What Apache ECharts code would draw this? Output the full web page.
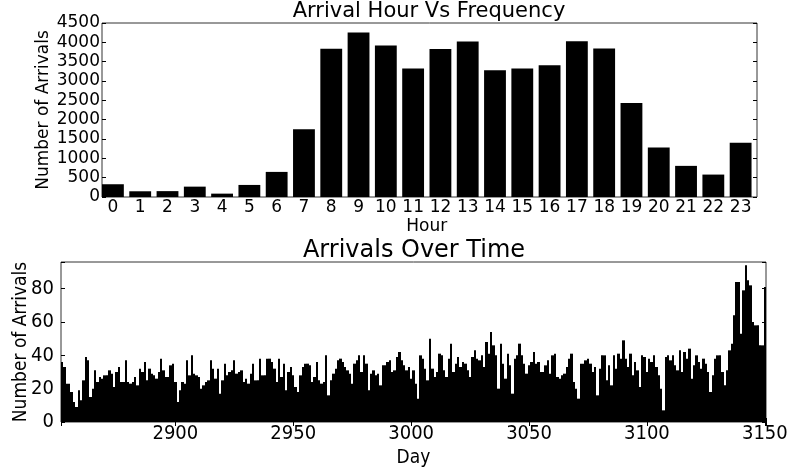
<!DOCTYPE html>
<html>
<head>
<meta charset="utf-8">
<script src="https://cdn.jsdelivr.net/npm/echarts@6/dist/echarts.min.js"></script>
<style>
  html, body { margin: 0; padding: 0; background: #fff; }
  #main { width: 792px; height: 469px; }
</style>
</head>
<body>
<div id="main"></div>
<script>
// arrivals per hour of day
const hours = ['0', '1', '2', '3', '4', '5', '6', '7', '8', '9', '10', '11',
  '12', '13', '14', '15', '16', '17', '18', '19', '20', '21', '22', '23'];
const hourCounts = [330, 148, 152, 268, 87, 312, 649, 1750, 3834, 4257, 3920, 3323,
  3826, 4024, 3280, 3323, 3410, 4030, 3843, 2432, 1282, 805, 580, 1402];

// arrivals per day, days 2852 .. 3150
const firstDay = 2852;
const days2852 = [36, 33, 23, 23, 18, 12, 9, 19, 13, 25, 39, 37, 15, 20, 31, 24, 27, 26, 28, 28,
  31, 29, 21, 30, 33, 24, 24, 37, 24, 23, 24, 27, 22, 32, 30, 36, 25, 32, 29, 28,
  26, 30, 38, 31, 27, 27, 34, 35, 24, 12];
const days2902 = [19, 24, 23, 37, 28, 40, 29, 28, 27, 20, 22, 24, 25, 37, 32, 26, 32, 17, 25, 35,
  28, 30, 31, 37, 29, 30, 31, 24, 26, 23, 29, 35, 25, 25, 38, 28, 28, 38, 38, 36,
  32, 24, 38, 27, 35, 19, 30, 33, 28, 21];
const days2952 = [18, 28, 33, 35, 35, 34, 24, 27, 36, 25, 23, 24, 40, 16, 25, 29, 32, 37, 38, 36,
  33, 31, 29, 23, 35, 37, 40, 30, 40, 35, 19, 29, 31, 28, 29, 22, 34, 34, 36, 37,
  30, 31, 39, 42, 37, 34, 31, 33, 26, 31];
const days3002 = [23, 14, 40, 38, 32, 25, 50, 32, 27, 30, 41, 40, 31, 27, 38, 47, 30, 35, 39, 33,
  36, 35, 31, 27, 39, 43, 38, 37, 40, 33, 48, 41, 54, 46, 40, 20, 47, 35, 26, 41,
  34, 17, 38, 40, 47, 40, 35, 29, 34, 36];
const days3052 = [42, 35, 36, 30, 30, 34, 37, 29, 40, 41, 27, 26, 28, 29, 33, 38, 41, 24, 20, 14,
  35, 35, 37, 38, 35, 30, 33, 16, 32, 40, 40, 25, 34, 22, 40, 32, 41, 38, 49, 38,
  33, 41, 28, 36, 31, 21, 40, 39, 30, 38];
const days3102 = [36, 40, 33, 28, 20, 7, 39, 40, 37, 40, 34, 31, 43, 30, 42, 38, 44, 26, 34, 40,
  36, 32, 38, 35, 30, 18, 28, 38, 40, 40, 30, 22, 31, 43, 47, 64, 84, 84, 53, 79,
  94, 85, 82, 60, 58, 58, 46, 46, 81];
const dailyArrivals = [].concat(days2852, days2902, days2952, days3002, days3052, days3102);

const hourData = hourCounts.map((v, i) => [i, v]);
const dayData = dailyArrivals.map((v, i) => [firstDay + i, v]);

const chart = echarts.init(document.getElementById('main'));
const font = 'DejaVu Sans';
const fontNarrow = "'DejaVu Sans Condensed', 'DejaVu Sans'";

// rect from x+from to x+to, 0 to value, placed through the axes;
// snap = round the x edges so neighbouring bars meet without seams
function barRenderer(from, to, snap) {
  return function (params, api) {
    const x = api.value(0);
    const v = api.value(1);
    const p0 = api.coord([x + from, 0]);
    const p1 = api.coord([x + to, v]);
    let x0 = p0[0], x1 = p1[0];
    if (snap) { x0 = Math.round(x0); x1 = Math.round(x1); }
    return {
      type: 'rect',
      shape: { x: x0, y: p1[1], width: x1 - x0, height: p0[1] - p1[1] },
      style: { fill: '#000' }
    };
  };
}

const option = {
  animation: false,
  backgroundColor: '#fff',
  title: [
    {
      text: 'Arrival Hour Vs Frequency', left: 429, top: 1, textAlign: 'center', padding: 0,
      textStyle: { fontFamily: font, fontSize: 21, fontWeight: 'normal', color: '#000' }
    },
    {
      text: 'Arrivals Over Time', left: 414, top: 239, textAlign: 'center', padding: 0,
      textStyle: { fontFamily: font, fontSize: 24, fontWeight: 'normal', color: '#000' }
    }
  ],
  grid: [
    { left: 102, top: 23, width: 655, height: 174, show: true, borderColor: '#333', borderWidth: 1 },
    { left: 99.3, top: 23, width: 655, height: 174, show: false },
    { left: 61, top: 262, width: 705, height: 160, show: true, borderColor: '#333', borderWidth: 1 }
  ],
  xAxis: [
    { type: 'value', gridIndex: 0, min: 0, max: 24, show: false },
    {
      type: 'category', gridIndex: 1, data: hours, boundaryGap: true,
      axisLine: { show: false },
      axisTick: { inside: true, alignWithLabel: true, length: 4, lineStyle: { color: '#000' } },
      axisLabel: { fontFamily: font, fontSize: 17, color: '#000', margin: 2, interval: 0 },
      name: 'Hour', nameLocation: 'middle', nameGap: 21,
      nameTextStyle: { fontFamily: font, fontSize: 17, color: '#000' }
    },
    {
      type: 'category', gridIndex: 1, data: hours, position: 'top', boundaryGap: true,
      axisLine: { show: false },
      axisTick: { inside: true, alignWithLabel: true, length: 4, lineStyle: { color: '#000' } },
      axisLabel: { show: false }
    },
    {
      type: 'value', gridIndex: 2, min: 2851.5, max: 3150.5, splitNumber: 6,
      axisLine: { show: false }, splitLine: { show: false },
      axisTick: { inside: true, length: 4, lineStyle: { color: '#000' } },
      axisLabel: {
        fontFamily: fontNarrow, fontSize: 20, color: '#000', margin: 2,
        formatter: v => (v % 50 === 0 ? String(v) : '')
      },
      name: 'Day', nameLocation: 'middle', nameGap: 27,
      nameTextStyle: { fontFamily: fontNarrow, fontSize: 19, color: '#000' }
    },
    {
      type: 'value', gridIndex: 2, min: 2851.5, max: 3150.5, splitNumber: 6, position: 'top',
      axisLine: { show: false }, splitLine: { show: false },
      axisTick: { inside: true, length: 4, lineStyle: { color: '#000' } },
      axisLabel: { show: false }
    }
  ],
  yAxis: [
    {
      type: 'value', gridIndex: 0, min: 0, max: 4500, interval: 500,
      axisLine: { show: false }, splitLine: { show: false },
      axisTick: { inside: true, length: 4, lineStyle: { color: '#000' } },
      axisLabel: { fontFamily: font, fontSize: 17, color: '#000', margin: 2, formatter: v => String(v) },
      name: 'Number of Arrivals', nameLocation: 'middle', nameGap: 50, nameMoveOverlap: false,
      nameTextStyle: { fontFamily: font, fontSize: 17, color: '#000' }
    },
    {
      type: 'value', gridIndex: 0, min: 0, max: 4500, interval: 500, position: 'right',
      axisLine: { show: false }, splitLine: { show: false },
      axisTick: { inside: true, length: 4, lineStyle: { color: '#000' } },
      axisLabel: { show: false }
    },
    { type: 'value', gridIndex: 1, min: 0, max: 4500, show: false },
    {
      type: 'value', gridIndex: 2, min: 0, max: 96, interval: 20,
      axisLine: { show: false }, splitLine: { show: false },
      axisTick: { inside: true, length: 4, lineStyle: { color: '#000' } },
      axisLabel: {
        fontFamily: fontNarrow, fontSize: 20, color: '#000', margin: 7,
        formatter: v => (v % 20 === 0 ? String(v) : '')
      },
      name: 'Number of Arrivals', nameLocation: 'middle', nameGap: 30, nameMoveOverlap: false,
      nameTextStyle: { fontFamily: fontNarrow, fontSize: 19, color: '#000' }
    },
    {
      type: 'value', gridIndex: 2, min: 0, max: 96, interval: 20, position: 'right',
      axisLine: { show: false }, splitLine: { show: false },
      axisTick: { inside: true, length: 4, lineStyle: { color: '#000' } },
      axisLabel: { show: false }
    }
  ],
  series: [
    {
      type: 'custom', xAxisIndex: 0, yAxisIndex: 0, data: hourData,
      renderItem: barRenderer(0, 0.8, false), clip: true, z: 1
    },
    {
      type: 'custom', xAxisIndex: 3, yAxisIndex: 3, data: dayData,
      renderItem: barRenderer(-0.5, 0.5, true), clip: true, z: 1
    }
  ]
};

chart.setOption(option);
</script>
</body>
</html>
